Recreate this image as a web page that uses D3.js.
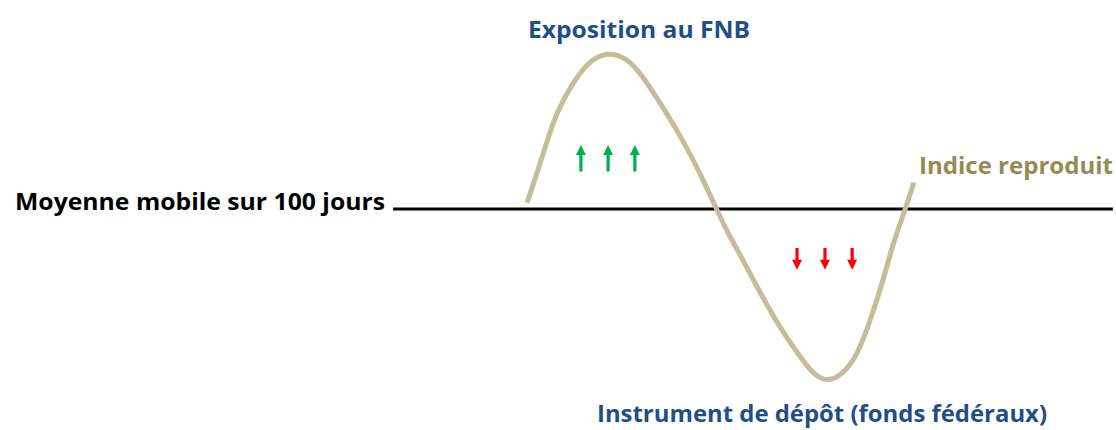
<!DOCTYPE html>
<html lang="en">
<head>
    <meta charset="UTF-8">
    <title>Moyenne mobile sur 100 jours</title>
    <script src="https://d3js.org/d3.v7.min.js"></script>
    <style>
        body { margin: 0; background: #fff; }
        text { font-family: "Open Sans", "Noto Sans", sans-serif; font-weight: bold; }
    </style>
</head>
<body>
    <svg width="1116" height="430"></svg>

    <script>
        // Tracked index relative to its 100-day moving average (arbitrary units)
        const curveX = [0, 2.6, 5.2, 7.7, 11.1, 15.5, 20.6, 25.8, 29.9, 35.1, 40.2, 44.6, 49.0,
                        52.3, 54.9, 59.3, 64.4, 69.6, 73.7, 77.3, 81.4, 85.1, 88.4, 91.8, 94.3, 97.4, 99.7];
        const curveY = [0.04, 0.23, 0.44, 0.62, 0.78, 0.94, 1.01, 0.97, 0.85, 0.65, 0.44, 0.23, -0.01,
                        -0.18, -0.29, -0.50, -0.73, -0.92, -1.06, -1.11, -1.06, -0.94, -0.72, -0.46, -0.22, -0.01, 0.17];

        // Moving average baseline extent
        const baselineX = [-34.5, 151];

        // Arrow positions (x) and spans (from -> to value)
        const upArrowsX = [13.9, 20.9, 27.8];
        const upArrowSpan = [0.24, 0.41];
        const downArrowsX = [69.6, 76.8, 83.8];
        const downArrowSpan = [-0.25, -0.39];

        const labels = {
            ma: "Moyenne mobile sur 100 jours",
            etf: "Exposition au FNB",
            index: "Indice reproduit",
            deposit: "Instrument de dépôt (fonds fédéraux)"
        };

        const svg = d3.select("svg");

        const x = d3.scaleLinear().domain([0, 100]).range([527, 915]);
        const y = d3.scaleLinear().domain([0, 1]).range([209, 53]);

        // Baseline (moving average)
        svg.append("line")
           .attr("x1", x(baselineX[0]))
           .attr("x2", x(baselineX[1]))
           .attr("y1", y(0))
           .attr("y2", y(0))
           .attr("stroke", "#000")
           .attr("stroke-width", 3);

        // Index curve
        const line = d3.line()
                       .x(d => x(d[0]))
                       .y(d => y(d[1]))
                       .curve(d3.curveBasis);

        svg.append("path")
           .datum(d3.zip(curveX, curveY))
           .attr("fill", "none")
           .attr("stroke", "#C4BD97")
           .attr("stroke-width", 5)
           .attr("d", line);

        // Arrows: tip at "to", tail at "from"
        function arrow(px, from, to) {
            const x0 = x(px), yTail = y(from), yTip = y(to);
            const dir = yTip < yTail ? 1 : -1;   // 1 = pointing up
            const head = 10, hw = 5, sw = 1.6;
            const yBase = yTip + dir * head;
            return `M${x0},${yTip} L${x0 + hw},${yBase} L${x0 + sw},${yBase} L${x0 + sw},${yTail}
                    L${x0 - sw},${yTail} L${x0 - sw},${yBase} L${x0 - hw},${yBase} Z`;
        }

        svg.selectAll("path.up")
           .data(upArrowsX)
           .enter()
           .append("path")
           .attr("class", "up")
           .attr("fill", "#00B050")
           .attr("d", d => arrow(d, upArrowSpan[0], upArrowSpan[1]));

        svg.selectAll("path.down")
           .data(downArrowsX)
           .enter()
           .append("path")
           .attr("class", "down")
           .attr("fill", "#FF0000")
           .attr("d", d => arrow(d, downArrowSpan[0], downArrowSpan[1]));

        // Labels
        function label(text, px, py, width, color) {
            svg.append("text")
               .attr("x", px)
               .attr("y", py)
               .attr("textLength", width)
               .attr("lengthAdjust", "spacingAndGlyphs")
               .style("font-size", "24px")
               .attr("fill", color)
               .text(text);
        }

        label(labels.ma, 15, 210, 370, "#000");
        label(labels.etf, 528, 38, 222, "#1F4E89");
        label(labels.index, 919, 174, 194, "#948A54");
        label(labels.deposit, 597, 422, 450, "#1F4E89");
    </script>
</body>
</html>
